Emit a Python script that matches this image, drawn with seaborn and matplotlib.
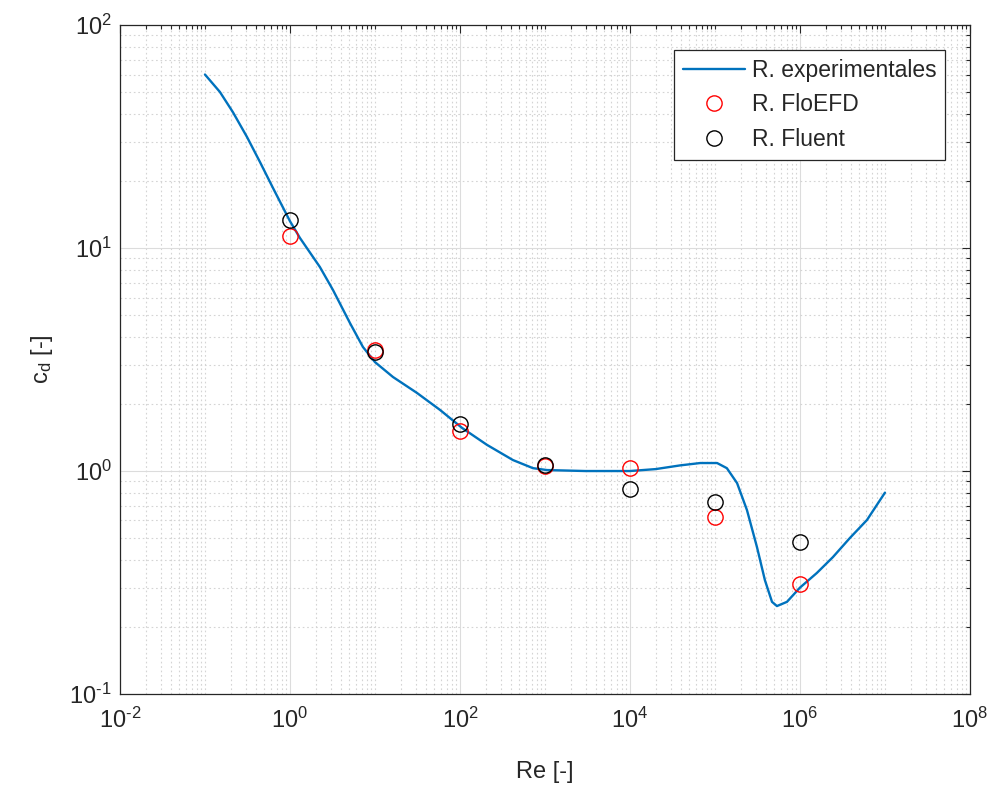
import numpy as np
import pandas as pd
import matplotlib
matplotlib.use("Agg")
import matplotlib.pyplot as plt
import seaborn as sns
from matplotlib.ticker import LogLocator, NullFormatter, FixedLocator, FuncFormatter

re_exp = [0.10, 0.15, 0.213, 0.312, 0.444, 0.631, 1.0, 1.31, 2.25, 3.21, 5.08, 7.22,
          10, 16.3, 31.2, 58.2, 106, 208, 420, 723, 1056, 3000, 1e4, 2e4, 3.9e4,
          6.7e4, 1.06e5, 1.38e5, 1.82e5, 2.38e5, 3.12e5, 3.87e5, 4.69e5, 5.36e5,
          7.03e5, 1e6, 1.58e6, 2.44e6, 3.87e6, 6.14e6, 1e7]
cd_exp = [60, 50.1, 40.7, 31.5, 24.3, 18.6, 13.2, 11.1, 8.22, 6.48, 4.61, 3.60,
          3.08, 2.64, 2.24, 1.88, 1.56, 1.31, 1.12, 1.03, 1.01, 1.0, 1.0, 1.02, 1.06,
          1.086, 1.086, 1.03, 0.883, 0.668, 0.456, 0.324, 0.259, 0.248,
          0.259, 0.30, 0.349, 0.411, 0.501, 0.603, 0.80]

# simulation results
re_sim = [1, 10, 100, 1e3, 1e4, 1e5, 1e6]
cd_floefd = [11.3, 3.49, 1.51, 1.05, 1.03, 0.62, 0.311]
cd_fluent = [13.4, 3.42, 1.62, 1.06, 0.83, 0.73, 0.48]

x_major = [1e-2, 1, 1e2, 1e4, 1e6, 1e8]

sns.set_style("white")
plt.rcParams["font.family"] = ["Liberation Sans", "DejaVu Sans"]
plt.rcParams["mathtext.fontset"] = "custom"
plt.rcParams["mathtext.rm"] = "Liberation Sans"
plt.rcParams["mathtext.it"] = "Liberation Sans:italic"

TXT = "#262626"


def dec_label(v, pos):
    e = int(round(np.log10(v)))
    s = str(e).replace("-", "\u2010")
    return "10$^{\\mathregular{" + s + "}}$"


fig = plt.figure(figsize=(9.93, 7.85), dpi=100)
ax = fig.add_axes([0.1208, 0.1159, 0.8560, 0.8522])

exp_df = pd.DataFrame({"Re": re_exp, "cd": cd_exp})
sim_df = pd.DataFrame({"Re": re_sim, "floefd": cd_floefd, "fluent": cd_fluent})

sns.lineplot(data=exp_df, x="Re", y="cd", ax=ax, color="#0072BD", linewidth=1.7,
             label="R. experimentales", sort=False, zorder=3)
ax.plot(sim_df["Re"], sim_df["floefd"], linestyle="none", marker="o", markersize=11,
        markerfacecolor="none", markeredgecolor="#FF0000", markeredgewidth=1.0,
        label="R. FloEFD", zorder=4)
ax.plot(sim_df["Re"], sim_df["fluent"], linestyle="none", marker="o", markersize=11,
        markerfacecolor="none", markeredgecolor="#000000", markeredgewidth=1.0,
        label="R. Fluent", zorder=4)

ax.set_xscale("log")
ax.set_yscale("log")
ax.set_xlim(1e-2, 1e8)
ax.set_ylim(1e-1, 1e2)

ax.xaxis.set_major_locator(FixedLocator(x_major))
ax.xaxis.set_minor_locator(LogLocator(base=10, subs=np.arange(1, 10), numticks=100))
ax.yaxis.set_minor_locator(LogLocator(base=10, subs=np.arange(2, 10), numticks=100))
ax.xaxis.set_minor_formatter(NullFormatter())
ax.yaxis.set_minor_formatter(NullFormatter())
ax.xaxis.set_major_formatter(FuncFormatter(dec_label))
ax.yaxis.set_major_formatter(FuncFormatter(dec_label))

ax.grid(True, which="major", color="#dcdcdc", linestyle="-", linewidth=0.8, zorder=0)
ax.grid(True, which="minor", color="#d4d4d4", linestyle=(0, (1.5, 2.5)), linewidth=0.8, zorder=0)
ax.set_axisbelow(True)

ax.tick_params(which="both", direction="in", top=True, right=True, colors=TXT,
               labelsize=17, width=0.8)
ax.tick_params(which="major", length=6)
ax.tick_params(which="minor", length=3)
ax.tick_params(axis="x", pad=10)
ax.tick_params(axis="y", pad=6)
for s in ax.spines.values():
    s.set_color(TXT)
    s.set_linewidth(0.9)

ax.set_xlabel("Re [-]", fontsize=17, color=TXT, labelpad=20)
ax.set_ylabel(r"c$_\mathregular{d}$ [-]", fontsize=17, color=TXT, labelpad=10)

leg = ax.legend(loc="upper right", bbox_to_anchor=(0.971, 0.963), fontsize=16.5,
                frameon=True, fancybox=False, edgecolor=TXT, framealpha=1,
                handlelength=2.7, borderpad=0.4, labelspacing=0.5,
                handletextpad=0.3, borderaxespad=0)
leg.get_frame().set_linewidth(0.9)
for t in leg.get_texts():
    t.set_color(TXT)

fig.savefig("out.png", dpi=100)
